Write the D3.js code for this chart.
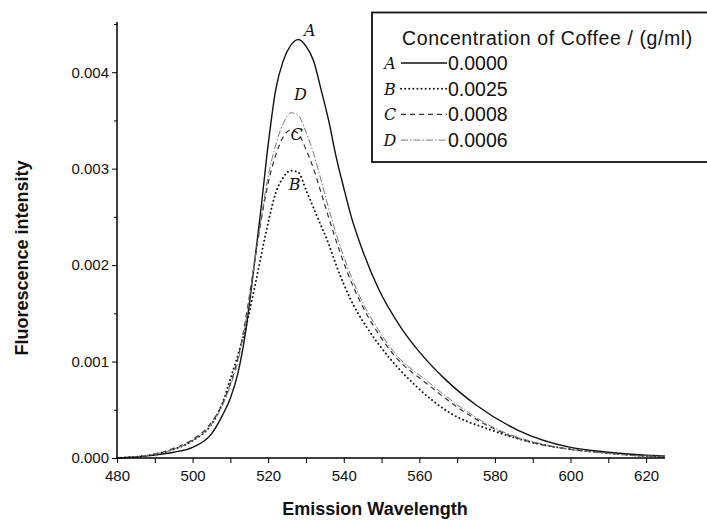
<!DOCTYPE html>
<html>
<head>
<meta charset="utf-8">
<script src="https://cdn.jsdelivr.net/npm/d3@7"></script>
<style>
  body { margin: 0; background: #fff; }
  text { font-family: "Liberation Sans", Arial, sans-serif; fill: #111; }
</style>
</head>
<body>
<svg id="chart" width="707" height="520"></svg>
<script>
// wavelengths (nm) and intensities, one pair of arrays per curve
const wlA = [480, 490, 495, 500, 505, 508, 510, 512, 514, 516, 518, 520, 522, 524, 526, 528, 530, 532, 534, 536, 538, 540, 542, 545, 549, 555, 560, 567, 575, 586, 600, 610, 620, 625];
const valA = [0, 0.00003, 0.00006, 0.00011, 0.00025, 0.00045, 0.00062, 0.00088, 0.0013, 0.0019, 0.00255, 0.00325, 0.00382, 0.00412, 0.00428, 0.00434, 0.00427, 0.00412, 0.00382, 0.0035, 0.00312, 0.0028, 0.0025, 0.00215, 0.00177, 0.00136, 0.0011, 0.00081, 0.00055, 0.00029, 0.00011, 0.00006, 0.00003, 0.00002];

const wlB = [480, 490, 495, 500, 505, 508, 510, 512, 514, 517, 520, 522, 524, 526, 528, 530, 533, 536, 538, 542, 546, 550, 559, 568, 579, 590, 600, 610, 620, 625];
const valB = [0, 0.00004, 0.00009, 0.00018, 0.00035, 0.00058, 0.00082, 0.00107, 0.00134, 0.00188, 0.00244, 0.00275, 0.00291, 0.00298, 0.00296, 0.00278, 0.0025, 0.00222, 0.002, 0.00163, 0.00136, 0.00114, 0.00075, 0.00047, 0.00029, 0.00016, 0.00009, 0.00005, 0.00002, 0.00001];

const wlC = [480, 490, 495, 500, 505, 508, 510, 512, 514, 516, 518, 520, 522, 524, 526, 528, 530, 532, 534, 537, 541, 545, 550, 553, 562, 573, 581, 590, 600, 610, 620, 625];
const valC = [0, 0.00004, 0.0001, 0.00019, 0.00037, 0.00057, 0.00077, 0.00103, 0.00143, 0.00193, 0.00243, 0.00285, 0.00314, 0.00333, 0.0034, 0.00336, 0.0032, 0.003, 0.00275, 0.00237, 0.00192, 0.00157, 0.00124, 0.00108, 0.00077, 0.00045, 0.00028, 0.00016, 0.00009, 0.00005, 0.00002, 0.00001];

const wlD = [480, 490, 495, 500, 505, 508, 510, 512, 514, 516, 518, 520, 522, 524, 526, 528, 530, 532, 534, 537, 541, 545, 550, 553, 562, 573, 581, 590, 600, 610, 620, 625];
const valD = [0, 0.00004, 0.00009, 0.00018, 0.00035, 0.00055, 0.00075, 0.001, 0.0014, 0.00192, 0.00245, 0.00292, 0.00325, 0.00347, 0.00358, 0.00355, 0.00338, 0.00316, 0.00288, 0.00245, 0.00198, 0.00161, 0.00128, 0.00111, 0.0008, 0.00047, 0.00029, 0.00017, 0.00009, 0.00005, 0.00002, 0.00002];

const seriesKeys = ["A", "B", "C", "D"];
const concentrations = ["0.0000", "0.0025", "0.0008", "0.0006"];
const xTicks = [480, 500, 520, 540, 560, 580, 600, 620];
const yTicks = [0, 0.001, 0.002, 0.003, 0.004];

const svg = d3.select("#chart");

const x = d3.scaleLinear().domain([480, 625]).range([117, 665]);
const y = d3.scaleLinear().domain([0, 0.0045]).range([458, 24]);

// line looks per curve
const styles = {
  A: { stroke: "#111", width: 1.4, dash: null },
  B: { stroke: "#111", width: 1.9, dash: "0.1,4", cap: "round" },
  C: { stroke: "#333", width: 1.2, dash: "5,4" },
  D: { stroke: "#777", width: 1.0, dash: "7,2,1.5,2" }
};

const curves = {
  A: d3.zip(wlA, valA),
  B: d3.zip(wlB, valB),
  C: d3.zip(wlC, valC),
  D: d3.zip(wlD, valD)
};

const line = d3.line()
  .x(d => x(d[0]))
  .y(d => y(d[1]))
  .curve(d3.curveMonotoneX);

for (let k of seriesKeys) {
  let st = styles[k];
  svg.append("path")
    .attr("d", line(curves[k]))
    .attr("fill", "none")
    .attr("stroke", st.stroke)
    .attr("stroke-width", st.width)
    .attr("stroke-dasharray", st.dash)
    .attr("stroke-linecap", st.cap || "butt");
}

// axes: major ticks labelled, minor ticks in between
const xAxis = d3.axisBottom(x)
  .tickValues(d3.range(480, 626, 10))
  .tickSize(5)
  .tickFormat(d => xTicks.includes(d) ? d : "");
const gx = svg.append("g").attr("transform", "translate(0,458)").call(xAxis);
gx.select(".domain").attr("d", "M117,0H665").attr("stroke-width", 1.5);
gx.selectAll("text").style("font-size", "15px").attr("dy", "1.0em");

const yAxis = d3.axisLeft(y)
  .tickValues(d3.range(0, 0.00451, 0.0005))
  .tickSize(5)
  .tickFormat(d => yTicks.some(t => Math.abs(t - d) < 1e-9) ? d3.format(".3f")(d) : "");
const gy = svg.append("g").attr("transform", "translate(117,0)").call(yAxis);
gy.select(".domain").attr("d", "M0,458V22").attr("stroke-width", 1.5);
gy.selectAll("text").style("font-size", "15px");
gy.selectAll(".tick line").filter(d => !yTicks.some(t => Math.abs(t - d) < 1e-9)).attr("x2", -3);

svg.append("text")
  .attr("x", 375).attr("y", 515)
  .attr("text-anchor", "middle")
  .style("font-size", "18px").style("font-weight", "bold")
  .text("Emission Wavelength");

svg.append("text")
  .attr("transform", "translate(28,258) rotate(-90)")
  .attr("text-anchor", "middle")
  .style("font-size", "18px").style("font-weight", "bold")
  .text("Fluorescence intensity");

// hand-written curve labels near the peaks
const peakLabels = [
  { k: "A", wl: 531, v: 0.00438 },
  { k: "D", wl: 528.5, v: 0.00371 },
  { k: "C", wl: 527.5, v: 0.0033 },
  { k: "B", wl: 527, v: 0.00278 }
];
svg.selectAll(".peak")
  .data(peakLabels)
  .enter().append("text")
  .attr("class", "peak")
  .attr("x", d => x(d.wl))
  .attr("y", d => y(d.v))
  .attr("text-anchor", "middle")
  .style("font-family", "'DejaVu Serif', serif")
  .style("font-style", "italic")
  .style("font-size", "16px")
  .text(d => d.k);

// legend box runs past the right edge like the original
const legend = svg.append("g");
legend.append("rect")
  .attr("x", 372).attr("y", 12.5)
  .attr("width", 360).attr("height", 149.5)
  .attr("fill", "#fff").attr("stroke", "#111").attr("stroke-width", 1.8);
legend.append("text")
  .attr("x", 402).attr("y", 45)
  .style("font-size", "19.5px")
  .style("letter-spacing", "0.6px")
  .text("Concentration of Coffee / (g/ml)");

seriesKeys.forEach((k, i) => {
  let ly = 63 + i * 25.7;
  let st = styles[k];
  legend.append("text")
    .attr("x", 390).attr("y", ly + 6)
    .attr("text-anchor", "middle")
    .style("font-family", "'DejaVu Serif', serif")
    .style("font-style", "italic")
    .style("font-size", "16px")
    .text(k);
  legend.append("line")
    .attr("x1", 401).attr("x2", 447)
    .attr("y1", ly).attr("y2", ly)
    .attr("stroke", st.stroke)
    .attr("stroke-width", st.width)
    .attr("stroke-dasharray", st.dash)
    .attr("stroke-linecap", st.cap || "butt");
  legend.append("text")
    .attr("x", 448).attr("y", ly + 7)
    .style("font-size", "19.5px")
    .text(concentrations[i]);
});
</script>
</body>
</html>
